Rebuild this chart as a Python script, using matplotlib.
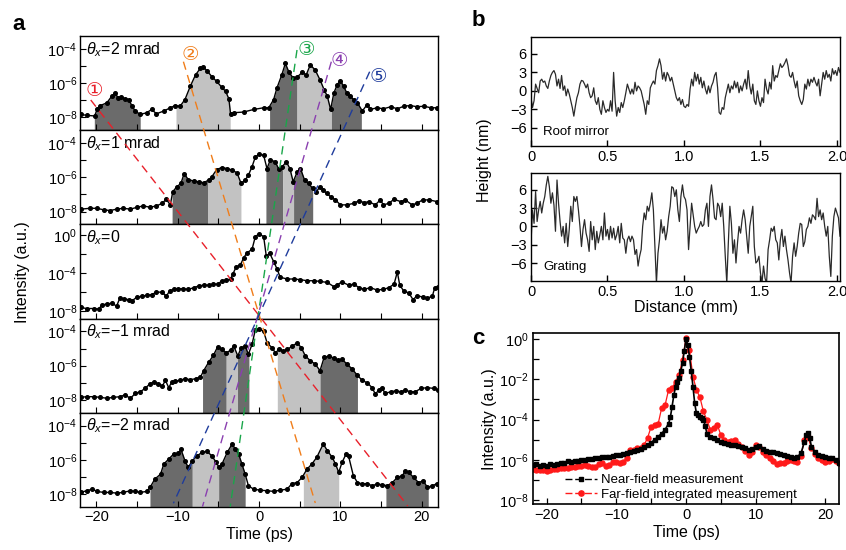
import numpy as np
import matplotlib
matplotlib.use("Agg")
import matplotlib.pyplot as plt
from matplotlib.lines import Line2D

plt.rcParams.update({
    "font.family": ["Liberation Sans", "DejaVu Sans", "Noto Sans CJK SC"],
    "mathtext.fontset": "custom",
    "mathtext.rm": "Liberation Sans",
    "mathtext.it": "Liberation Sans:italic",
    "mathtext.bf": "Liberation Sans:bold",
    "font.size": 10.5,
    "axes.linewidth": 1.0,
    "xtick.direction": "in",
    "ytick.direction": "in",
})

# ---------------- data: panel a (time in ps, log10 intensity) ----------------
t1 = [-21.9,-21.2,-20.2,-19.9,-19.5,-18.7,-18.1,-17.7,-17.3,-16.9,-16.5,-16.0,-15.6,-15.2,-14.6,
      -13.8,-13.2,-12.6,-11.7,-10.9,-10.3,-9.7,-9.1,-8.45,-7.8,-7.2,-6.9,-6.4,-5.8,-5.2,
      -4.6,-4.1,-3.7,-3.5,-3.1,-1.9,-0.66,0.57,1.2,1.8,2.2,2.8,3.24,3.65,4.2,
      4.68,5.3,5.8,6.3,6.9,7.5,8.0,8.4,8.8,9.2,9.6,10.0,10.4,10.8,11.2,
      11.65,12.1,12.7,13.3,13.7,14.5,15.3,16.2,17.0,17.8,18.6,19.4,20.3,21.1,21.9]
v1 = [-7.83,-7.88,-7.92,-7.54,-7.31,-7.15,-6.77,-6.58,-6.87,-6.81,-6.9,-6.96,-7.35,-7.63,-7.83,
      -7.73,-7.54,-7.79,-7.63,-7.44,-7.31,-7.35,-6.96,-6.19,-5.52,-5.13,-5.04,-5.27,-5.62,-5.9,
      -6.23,-6.48,-6.92,-7.79,-7.73,-7.69,-7.54,-7.44,-7.44,-6.96,-6.29,-5.52,-4.85,-5.33,-5.71,
      -5.65,-5.38,-5.52,-4.94,-5.23,-5.81,-6.38,-6.77,-7.54,-6.58,-6.1,-5.85,-6.19,-6.58,-6.77,
      -6.96,-7.15,-7.63,-7.25,-7.54,-7.44,-7.5,-7.38,-7.5,-7.35,-7.31,-7.38,-7.35,-7.44,-7.44]

t2 = [-21.9,-20.8,-19.9,-19.1,-18.3,-17.5,-16.7,-15.8,-15.0,-14.2,-13.4,-12.6,-11.9,-11.4,-10.9,
      -10.6,-10.1,-9.6,-9.2,-8.7,-8.0,-7.4,-6.8,-6.2,-5.8,-5.2,-4.6,-3.9,-3.3,-2.7,
      -2.2,-1.7,-1.3,-0.86,-0.45,0.0,0.57,0.98,1.4,2.0,2.4,2.83,3.36,3.8,4.2,
      4.7,5.1,5.6,6.1,6.6,7.05,7.5,7.9,8.3,8.8,9.4,10.0,10.8,11.65,12.3,
      12.9,13.5,14.3,14.9,15.3,15.95,16.6,17.4,18.0,18.8,19.4,20.1,20.9,21.9]
v2 = [-7.86,-7.81,-7.81,-7.9,-7.94,-7.86,-7.81,-7.86,-7.75,-7.67,-7.75,-7.67,-7.52,-7.28,-7.61,
      -6.84,-6.55,-6.36,-5.78,-6.13,-6.22,-6.26,-6.32,-6.16,-5.97,-5.55,-5.43,-5.49,-5.58,-5.74,
      -6.36,-6.16,-5.87,-5.39,-4.81,-4.66,-4.71,-5.49,-4.97,-5.1,-5.49,-5.39,-5.1,-5.49,-6.26,
      -5.68,-5.49,-6.16,-6.36,-6.65,-6.84,-6.55,-6.74,-6.94,-7.13,-7.32,-7.61,-7.61,-7.52,-7.36,
      -7.48,-7.42,-7.61,-7.32,-7.61,-7.52,-7.28,-7.42,-7.32,-7.61,-7.52,-7.32,-7.32,-7.42]

t3 = [-21.9,-21.2,-20.3,-19.7,-19.3,-18.7,-18.1,-17.5,-17.1,-16.6,-16.0,-15.6,-15.0,-14.4,-13.8,
      -13.2,-12.6,-11.9,-11.4,-11.0,-10.5,-9.9,-9.3,-8.7,-8.0,-7.4,-6.8,-6.2,-5.6,-5.0,
      -4.6,-4.0,-3.5,-3.2,-2.8,-2.3,-1.9,-1.5,-0.86,-0.45,0.0,0.57,0.9,1.3,1.8,
      2.2,2.6,3.45,4.3,5.1,5.9,6.7,7.5,8.4,9.2,9.6,10.2,11.0,11.65,12.3,
      12.9,13.7,14.5,15.3,15.95,16.6,17.0,17.3,17.8,18.4,18.95,19.4,20.1,20.7,21.3,21.6,22.0]
v3 = [-7.63,-7.74,-7.74,-7.8,-7.37,-7.26,-7.19,-7.48,-6.64,-6.72,-6.82,-6.93,-6.53,-6.46,-6.35,
      -6.28,-6.02,-6.02,-6.46,-5.91,-5.73,-5.66,-5.66,-5.73,-5.55,-5.36,-5.29,-5.29,-5.18,-5.18,
      -4.82,-4.74,-4.64,-4.09,-3.36,-3.18,-2.45,-1.9,-1.53,-0.18,0.1,-0.18,-2.26,-1.9,-2.81,
      -3.54,-4.45,-4.64,-4.64,-4.71,-4.82,-4.82,-4.89,-5.0,-5.44,-5.26,-4.93,-5.29,-5.18,-5.55,
      -5.73,-5.55,-5.8,-5.73,-5.55,-5.18,-3.9,-5.29,-5.91,-6.1,-6.82,-6.39,-6.53,-6.64,-6.46,-5.55,-5.44]

t4 = [-21.9,-21.2,-20.3,-19.5,-18.7,-17.9,-17.1,-16.5,-15.8,-15.2,-14.6,-14.0,-13.4,-12.9,-12.4,
      -11.9,-11.5,-11.1,-10.7,-10.3,-9.7,-9.1,-8.45,-7.8,-7.2,-6.8,-6.2,-5.6,-5.1,-4.6,
      -4.0,-3.5,-3.1,-2.6,-2.2,-1.7,-1.3,-0.86,-0.45,0.0,0.57,1.0,1.6,2.0,2.5,
      3.0,3.5,4.06,4.7,5.2,5.7,6.3,6.9,7.5,8.0,8.6,9.2,9.7,10.2,10.8,
      11.45,12.1,12.7,13.3,13.9,14.3,14.7,15.1,15.5,16.2,16.8,17.4,18.0,18.6,19.2,
      19.9,20.7,21.5,22.0]
v4 = [-7.85,-7.81,-7.81,-7.85,-7.9,-7.85,-7.81,-7.71,-7.9,-7.62,-7.52,-7.33,-7.05,-6.95,-7.05,
      -7.2,-6.86,-7.28,-6.95,-6.91,-6.86,-6.76,-6.82,-6.76,-6.67,-6.29,-5.81,-5.39,-4.91,-5.05,
      -5.24,-5.1,-4.86,-5.43,-4.95,-4.86,-5.33,-4.76,-3.9,-3.85,-4.0,-4.67,-4.95,-5.24,-5.05,
      -5.14,-5.05,-4.86,-4.67,-4.95,-5.43,-5.71,-5.9,-6.29,-5.52,-5.43,-5.56,-5.68,-5.62,-5.9,
      -6.19,-6.57,-6.86,-7.0,-7.28,-7.66,-7.43,-7.28,-7.62,-7.52,-7.47,-7.52,-7.43,-7.52,-7.52,
      -7.33,-7.28,-7.33,-7.43]

t5 = [-21.9,-21.2,-20.5,-19.9,-19.1,-18.3,-17.5,-16.7,-15.8,-15.2,-14.6,-13.8,-13.4,-12.8,-12.1,
      -11.7,-11.1,-10.5,-9.9,-9.6,-9.1,-8.7,-8.2,-7.6,-7.0,-6.4,-5.8,-5.25,-4.9,-4.55,
      -3.9,-3.3,-2.9,-2.5,-2.1,-1.7,-1.3,-0.66,0.16,1.0,1.8,2.6,3.45,4.06,4.7,
      5.3,5.9,6.5,7.1,7.9,8.4,9.0,9.4,9.8,10.2,10.7,11.0,11.6,12.1,12.7,
      13.3,13.9,14.5,15.1,15.75,16.4,17.0,17.6,18.0,18.4,19.0,19.6,20.2,20.7,21.3,21.9]
v5 = [-7.9,-7.8,-7.71,-7.84,-7.9,-7.9,-7.94,-7.9,-7.8,-7.84,-7.9,-7.84,-7.61,-7.12,-6.83,
      -6.24,-5.95,-5.66,-5.62,-5.37,-6.05,-6.44,-6.05,-5.76,-5.56,-5.5,-5.76,-6.15,-6.44,-6.24,
      -5.56,-5.07,-5.37,-5.66,-6.24,-6.83,-7.51,-7.71,-7.77,-7.8,-7.84,-7.77,-7.71,-7.38,-7.32,
      -7.02,-6.54,-6.24,-5.85,-5.07,-5.46,-5.85,-6.24,-6.73,-6.15,-5.66,-5.76,-6.93,-7.32,-7.41,
      -7.38,-7.51,-7.41,-7.45,-7.51,-7.32,-7.02,-6.93,-6.63,-6.73,-7.02,-7.32,-7.22,-7.61,-7.51,-7.38]

panel_times = [t1, t2, t3, t4, t5]
panel_logI = [v1, v2, v3, v4, v5]
panel_labels = [r"$\theta_x$=2 mrad", r"$\theta_x$=1 mrad", r"$\theta_x$=0",
                "$\\theta_x$=\u22121 mrad", "$\\theta_x$=\u22122 mrad"]
# shaded windows (start, end, tone) per panel
panel_windows = [
    [(-20.24, -14.6, "d"), (-10.2, -3.54, "l"), (1.3, 4.67, "d"), (4.67, 8.9, "l"), (8.9, 12.58, "d")],
    [(-10.68, -6.28, "d"), (-6.28, -2.22, "l"), (0.85, 2.9, "d"), (2.9, 4.25, "l"), (4.25, 6.6, "d")],
    [],
    [(-6.94, -4.03, "d"), (-4.03, -2.64, "l"), (-2.64, -1.24, "d"), (2.25, 7.5, "l"), (7.5, 12.1, "d")],
    [(-13.4, -8.2, "d"), (-8.2, -4.96, "l"), (-4.96, -1.7, "d"), (5.45, 9.8, "l"), (15.6, 20.8, "d")],
]

# ---------------- data: panel b (height in nm every 0.01 mm) ----------------
roof = [-1.1,-2.7,-1.6,1.1,0.4,-0.3,1.6,1.9,1.4,1.6, 0.8,0.4,1.6,2.5,3.0,3.3,2.7,0.8,1.9,0.4,
        2.5,0.1,0.8,-0.8,0.3,-0.5,-1.6,-2.7,-4.1,-2.5, -1.1,-0.3,1.1,1.7,1.6,1.1,0.5,1.1,-0.3,-1.1,
        -0.8,0.5,-1.6,-2.2,-1.1,-3.0,-3.8,-1.6,-2.7,-3.5, -3.0,-3.3,-1.6,-3.3,3.0,-1.6,-4.1,-2.7,-3.5,-1.9,
        -2.7,-1.6,-0.3,1.1,0.3,-0.5,0.3,-0.5,1.4,0.0, 0.8,0.5,0.0,-1.1,-2.2,-3.8,-1.6,-2.2,0.5,1.1,
        1.6,1.1,3.3,4.1,5.2,4.1,1.9,3.0,1.6,3.0, 2.5,1.6,2.2,1.1,0.0,-1.1,-1.6,-1.1,-2.2,-1.4,
        -2.5,-2.7,-2.2,-2.5,0.3,1.9,0.8,3.0,1.6,2.7, 1.1,2.2,0.5,1.6,0.3,-0.5,0.8,-0.3,0.8,1.4,
        2.5,3.0,0.5,-3.5,-3.8,-2.7,-3.0,-1.1,0.0,1.1, -0.3,0.8,0.3,1.6,0.5,1.4,-0.3,0.8,0.0,1.1,
        1.9,0.3,3.3,0.8,-0.5,1.1,-1.6,-2.2,0.0,-1.6, -2.5,-1.1,-1.9,1.9,0.3,-0.5,1.4,0.3,4.1,1.6,
        2.5,2.2,3.3,4.4,3.8,4.1,4.6,5.2,4.1,2.5, 2.2,3.0,1.6,0.5,1.6,-0.8,-1.6,-2.2,-1.4,1.1,
        0.3,1.9,0.8,1.9,1.4,2.2,1.4,0.8,1.9,-0.8, 1.1,3.0,1.9,3.3,2.2,2.7,1.6,3.6,2.7,3.3,
        2.5,3.8,3.0]
grating = [-2.7,2.7,0.5,5.7,0.8,2.7,4.1,2.2,3.8,4.9, 6.8,8.2,6.5,3.8,5.5,3.5,-0.8,7.6,3.8,0.8,
           -1.6,0.0,-2.7,0.5,-3.3,-0.5,3.3,0.8,4.9,4.1, 4.9,2.7,0.0,-3.3,-0.5,1.1,-1.1,-2.2,-4.1,0.8,
           -2.2,0.0,-3.8,-0.8,-2.7,-1.4,0.0,-2.2,2.2,-1.6, -0.5,-2.2,0.0,-1.9,-0.3,-2.2,-1.4,0.0,-2.7,0.5,
           -1.9,-2.2,-4.4,-2.2,-1.6,-2.5,-1.6,-2.2,-4.6,-3.8, -6.5,-4.9,-3.8,0.0,2.2,1.1,3.3,2.5,3.8,5.5,
           2.7,-3.3,-9.3,-4.4,-2.2,1.1,-1.1,0.0,-2.2,-0.8, 1.6,3.3,6.5,6.3,4.9,6.0,2.7,0.8,4.9,6.8,
           4.9,4.4,2.7,-3.8,0.0,3.8,1.9,0.0,-1.1,-0.5, 0.0,0.8,0.0,0.3,2.7,3.8,0.0,4.9,6.8,4.4,
           1.4,1.1,3.8,3.3,1.6,3.8,0.0,-4.9,-9.3,-2.7, 3.3,0.5,-4.4,-2.2,-6.0,-2.7,0.0,-1.1,1.1,2.7,
           1.1,-1.6,-4.4,0.0,1.6,3.3,-3.3,-6.0,-5.7,-4.9, -7.6,-9.3,-6.5,-8.5,-9.3,-3.8,-2.2,-0.3,-0.8,0.0,
           -2.2,-2.7,-5.5,-2.2,-0.5,-3.3,-1.6,-3.8,-5.5,-7.6, -9.3,-4.9,-2.7,-4.9,-3.3,-1.1,0.5,0.3,-3.3,-2.5,
           -0.5,0.0,1.4,0.5,1.9,1.6,1.1,4.6,1.6,2.7, 1.1,2.2,0.0,-1.6,0.0,-4.9,-8.2,-1.6,1.6,3.0,
           2.2,1.4,-1.6]
dist_step_mm = 0.01

# ---------------- data: panel c (time in ps, log10 intensity) ----------------
tn = [-22,-21.5,-21,-20.5,-20,-19.5,-19,-18.5,-18,-17.5,-17,-16.5,-16,-15.5,-15,-14.5,-14,-13.5,-13,-12.5,
      -12,-11.5,-11,-10.5,-10,-9.5,-9,-8.5,-8,-7.5,-7,-6.5,-6,-5.5,-5,-4.5,-4,-3.5,-3,-2.5,
      -2.25,-2,-1.75,-1.5,-1.25,-1,-0.75,-0.5,-0.25,0,0.25,0.5,0.75,1,1.25,1.5,1.75,2,2.25,2.5,
      2.75,3,3.5,4,4.5,5,5.5,6,6.5,7,7.5,8,8.5,9,9.5,10,10.5,11,11.5,12,
      12.5,13,13.5,14,14.5,15,15.5,16,16.5,17,17.25,17.5,17.75,18,18.5,19,19.5,20,20.5,21,21.5,22]
vn = [-6.26,-6.2,-6.3,-6.25,-6.3,-6.22,-6.25,-6.2,-6.15,-6.18,-6.08,-6.12,-6.05,-6.08,-6.0,-6.02,-5.95,-5.98,-5.92,-5.9,
      -5.88,-5.85,-5.87,-5.8,-5.76,-5.78,-5.7,-5.68,-5.6,-5.55,-5.5,-5.45,-5.35,-5.25,-5.15,-5.0,-4.85,-4.7,-4.5,-4.2,
      -3.9,-3.36,-2.8,-2.37,-2.15,-1.95,-1.6,-1.2,-0.6,0.0,-0.3,-0.88,-1.6,-2.37,-3.2,-3.7,-3.8,-3.86,-3.95,-4.0,
      -4.3,-4.7,-4.85,-4.93,-5.0,-5.1,-5.15,-5.2,-5.25,-5.25,-5.3,-5.35,-5.4,-5.5,-5.45,-5.35,-5.3,-5.45,-5.55,-5.6,
      -5.62,-5.65,-5.7,-5.76,-5.8,-5.85,-5.93,-5.85,-5.68,-5.1,-4.75,-4.69,-4.9,-5.35,-5.6,-5.76,-5.82,-5.88,-5.9,-5.93,-6.0,-6.18]
tf = [-22,-21.5,-21,-20.5,-20,-19.5,-19,-18.5,-18,-17.5,-17,-16.5,-16,-15.5,-15,-14.5,-14,-13.5,-13,-12.5,
      -12,-11.5,-11,-10.5,-10,-9.5,-9,-8.5,-8,-7.5,-7,-6.5,-6,-5.5,-5,-4.5,-4,-3.5,-3,-2.5,
      -2,-1.5,-1,-0.5,0,0.5,1,1.5,2,2.5,3,3.5,4,4.5,5,5.5,6,6.5,7,7.5,
      8,8.5,9,9.5,10,10.5,11,11.5,12,12.5,13,13.5,14,14.5,15,15.5,16,16.5,17,17.5,
      18,18.5,19,19.5,20,20.5,21,21.5,22]
vf = [-6.46,-6.5,-6.52,-6.5,-6.54,-6.5,-6.45,-6.48,-6.42,-6.4,-6.42,-6.36,-6.34,-6.3,-6.32,-6.28,-6.29,-6.35,-6.34,-6.2,
      -6.18,-6.3,-6.26,-6.12,-6.09,-6.15,-6.1,-5.9,-5.5,-5.5,-5.43,-5.4,-5.26,-4.9,-4.35,-4.27,-4.22,-3.44,-3.28,-2.53,
      -2.45,-2.12,-1.79,-1.04,0.05,-0.55,-1.87,-2.53,-2.9,-3.6,-4.02,-4.52,-4.44,-4.27,-4.77,-5.0,-5.1,-5.05,-5.02,-5.2,
      -5.35,-5.55,-5.76,-5.6,-5.26,-5.35,-5.6,-5.75,-5.93,-6.05,-6.23,-6.15,-6.18,-6.05,-6.0,-6.05,-6.1,-5.8,-5.02,-4.85,
      -5.43,-5.7,-5.93,-6.0,-6.1,-6.05,-5.98,-6.05,-6.14]

# guide lines across panel a: (t_top, row_top, t_bottom, row_bottom) in (ps, pixel row)
guides = [(-20.68, 100, 18.28, 506), (-9.29, 61.7, 6.92, 503), (4.67, 50, -3.54, 506.7),
          (8.89, 61.7, -6.95, 506.7), (13.6, 71.7, -10.52, 503.3)]
guide_colors = ["#e8202a", "#f07d1a", "#1aa64a", "#8a3fb0", "#1f3c9c"]
guide_marks = ["\u2460", "\u2461", "\u2462", "\u2463", "\u2464"]
mark_pos = [(-20.24, 90.7), (-8.46, 55), (5.82, 49.3), (9.91, 61), (14.71, 76)]

# ---------------- figure ----------------
W, H = 846, 550
fig = plt.figure(figsize=(W / 100, H / 100), dpi=100)

def rect(l, t, r, b):
    return [l / W, 1 - b / H, (r - l) / W, (b - t) / H]

def sci(e):
    if e >= 0:
        return r"$10^{%d}$" % e
    return "$10^{\u2212" + str(-e) + "}$"

DARK, LIGHT = "#6b6b6b", "#c2c2c2"
A_TOP, A_BOT, A_L, A_R = 36, 507, 80, 438
ph = (A_BOT - A_TOP) / 5
axes_a = []
for i in range(5):
    ax = fig.add_axes(rect(A_L, A_TOP + i * ph, A_R, A_TOP + (i + 1) * ph))
    axes_a.append(ax)
    t = np.asarray(panel_times[i], float)
    lv = np.asarray(panel_logI[i], float)
    if i == 2:
        lo, hi = -8.8, 1.1
        maj, mnr = [0, -4, -8], [-2, -6]
    else:
        lo, hi = -8.75, -3.25
        maj, mnr = [-4, -6, -8], [-5, -7]
    ax.set_yscale("log")
    ax.set_ylim(10 ** lo, 10 ** hi)
    ax.set_xlim(-22, 22)
    for (a, b, tone) in panel_windows[i]:
        m = (t > a) & (t < b)
        tt = np.concatenate([[a], t[m], [b]])
        yy = 10 ** np.concatenate([[np.interp(a, t, lv)], lv[m], [np.interp(b, t, lv)]])
        ax.fill_between(tt, yy, 10 ** lo, color=DARK if tone == "d" else LIGHT, lw=0, zorder=1)
    ax.plot(t, 10 ** lv, "-o", color="black", lw=1.0, ms=2.6, zorder=3)
    ax.set_yticks([10.0 ** e for e in maj])
    ax.set_yticklabels([sci(e) for e in maj], fontsize=10.5)
    ax.set_yticks([10.0 ** e for e in mnr], minor=True)
    ax.yaxis.set_minor_formatter(matplotlib.ticker.NullFormatter())
    ax.set_xticks([-20, -10, 0, 10, 20])
    ax.set_xticks([-15, -5, 5, 15], minor=True)
    ax.tick_params(which="major", length=4, width=0.8, pad=2)
    ax.tick_params(which="minor", length=4, width=0.8)
    if i < 4:
        ax.tick_params(labelbottom=False)
    else:
        ax.set_xticklabels(["\u221220", "\u221210", "0", "10", "20"], fontsize=10.5)
    ax.text(0.018, 0.86, panel_labels[i], transform=ax.transAxes, fontsize=11.5,
            va="center", ha="left", zorder=5)

axes_a[4].set_xlabel("Time (ps)", fontsize=11.5, labelpad=2)
fig.text(23 / W, 1 - 272 / H, "Intensity (a.u.)", rotation=90, ha="center", va="center", fontsize=11.5)

ov = fig.add_axes(rect(A_L, A_TOP, A_R, A_BOT), zorder=10)
ov.patch.set_alpha(0)
ov.set_xlim(-22, 22)
ov.set_ylim(A_BOT, A_TOP)
ov.axis("off")
for (x0, y0, x1, y1), c in zip(guides, guide_colors):
    ov.plot([x0, x1], [y0, y1], color=c, lw=1.0, ls=(0, (6, 4)), clip_on=False)
for (x, y), c, s in zip(mark_pos, guide_colors, guide_marks):
    ov.text(x, y, s, color=c, fontsize=14, ha="center", va="center",
            family=["DejaVu Sans", "Noto Sans CJK SC"])

# ---------------- panel b ----------------
dist = np.arange(len(roof)) * dist_step_mm
for k, (prof, name, box) in enumerate([(roof, "Roof mirror", (531, 36.7, 840, 145.7)),
                                         (grating, "Grating", (531, 172.7, 840, 280.7))]):
    ax = fig.add_axes(rect(*box))
    ax.plot(dist, prof, color="#2a2a2a", lw=0.9)
    ax.set_xlim(0, 2.02)
    ax.set_ylim(-8.9, 8.8)
    ax.set_yticks([-6, -3, 0, 3, 6])
    ax.set_yticklabels(["\u22126", "\u22123", "0", "3", "6"], fontsize=10.5)
    ax.set_xticks([0, 0.5, 1.0, 1.5, 2.0])
    ax.set_xticklabels(["0", "0.5", "1.0", "1.5", "2.0"], fontsize=10.5)
    ax.tick_params(length=4.5, width=1.0, pad=3)
    ax.text(0.04, 0.07, name, transform=ax.transAxes, fontsize=9.5, ha="left", va="bottom")
    if k == 1:
        ax.set_xlabel("Distance (mm)", fontsize=11.5, labelpad=1)
fig.text(484 / W, 1 - 160 / H, "Height (nm)", rotation=90, ha="center", va="center", fontsize=11.5)

# ---------------- panel c ----------------
axc = fig.add_axes(rect(532.7, 333.3, 839.3, 504.3))
axc.set_yscale("log")
axc.plot(tf, 10 ** np.asarray(vf), "-o", color="#ff1a1a", lw=0.9, ms=3.6, zorder=2)
axc.plot(tn, 10 ** np.asarray(vn), "-s", color="black", lw=1.2, ms=3.3, zorder=3)
axc.set_xlim(-22, 22)
axc.set_ylim(10 ** -8.21, 10 ** 0.28)
axc.set_yticks([10.0 ** e for e in [0, -2, -4, -6, -8]])
axc.set_yticklabels([sci(e) for e in [0, -2, -4, -6, -8]], fontsize=10.5)
axc.set_yticks([10.0 ** e for e in [-1, -3, -5, -7]], minor=True)
axc.yaxis.set_minor_formatter(matplotlib.ticker.NullFormatter())
axc.set_xticks([-20, -10, 0, 10, 20])
axc.set_xticklabels(["\u221220", "\u221210", "0", "10", "20"], fontsize=10.5)
axc.set_xticks([-15, -5, 5, 15], minor=True)
axc.tick_params(which="both", length=4, width=0.9, pad=3)
for s in axc.spines.values():
    s.set_linewidth(1.2)
axc.set_xlabel("Time (ps)", fontsize=11.5, labelpad=2)
axc.set_ylabel("Intensity (a.u.)", fontsize=11.5, labelpad=1)
handles = [Line2D([], [], color="black", ls=(0, (5, 2)), marker="s", ms=3.5, lw=1.0),
           Line2D([], [], color="#ff1a1a", ls=(0, (5, 2)), marker="o", ms=3.8, lw=1.0)]
axc.legend(handles, ["Near-field measurement", "Far-field integrated measurement"],
           loc="lower left", bbox_to_anchor=(0.075, -0.035), frameon=False, fontsize=9.5,
           handlelength=2.4, handletextpad=0.3, labelspacing=0.2, borderpad=0.2, numpoints=1)

# panel letters
fig.text(12 / W, 1 - 24 / H, "a", fontsize=16, fontweight="bold", ha="left", va="center")
fig.text(472 / W, 1 - 20 / H, "b", fontsize=16, fontweight="bold", ha="left", va="center")
fig.text(472 / W, 1 - 338 / H, "c", fontsize=16, fontweight="bold", ha="left", va="center")

fig.savefig("out.png", dpi=100)
